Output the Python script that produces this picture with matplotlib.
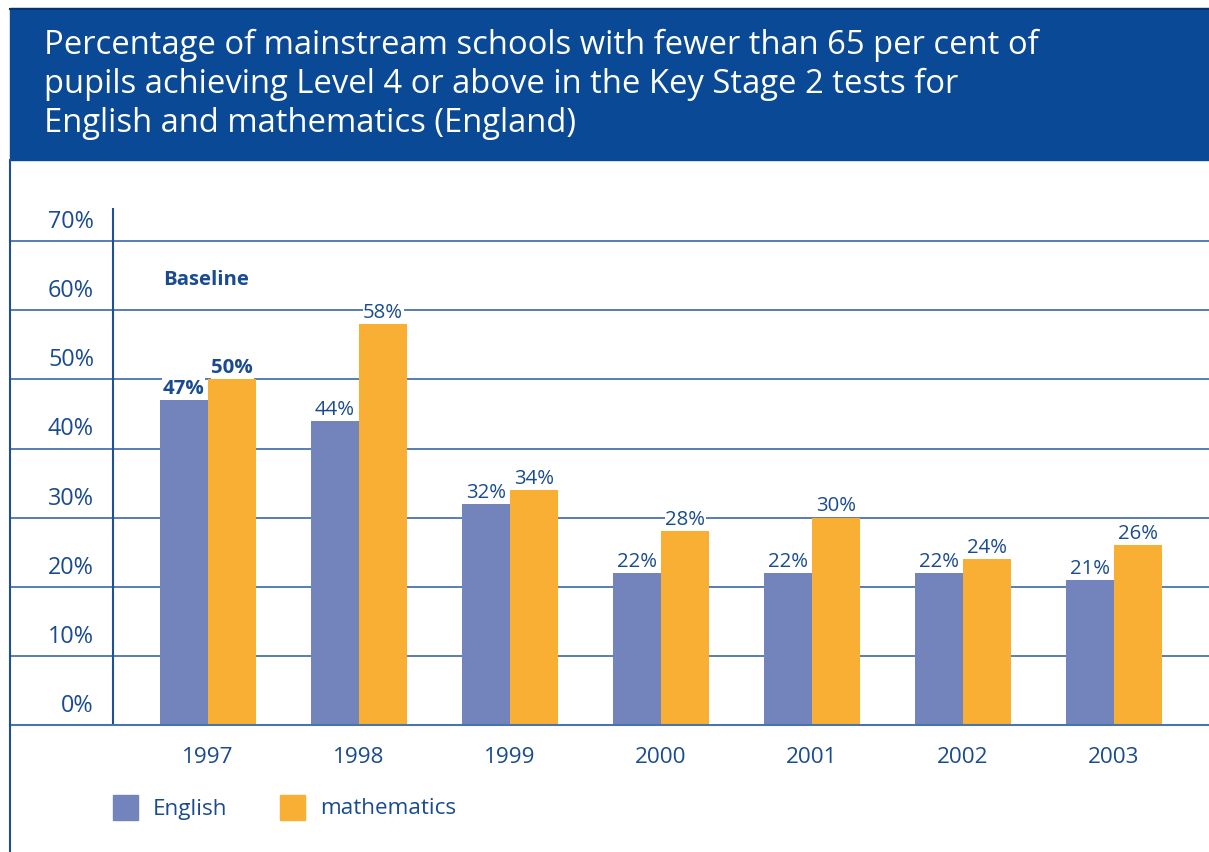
import matplotlib.pyplot as plt
from matplotlib.patches import Rectangle
from matplotlib.lines import Line2D

plt.rcParams['font.family'] = ['Open Sans', 'DejaVu Sans']

years = ['1997', '1998', '1999', '2000', '2001', '2002', '2003']
english = [47, 44, 32, 22, 22, 22, 21]
maths = [50, 58, 34, 28, 30, 24, 26]
yticks = [0, 10, 20, 30, 40, 50, 60, 70]
title_lines = ['Percentage of mainstream schools with fewer than 65 per cent of',
               'pupils achieving Level 4 or above in the Key Stage 2 tests for',
               'English and mathematics (England)']

BANNER = '#0a4996'
TEXT = '#1a4b90'
GRID = '#4a74ad'
ENG = '#7383bb'
MATH = '#f9af33'

W, H = 1209, 852
fig = plt.figure(figsize=(W / 100, H / 100), dpi=100)


def fx(x):
    return x / W


def fy(y):
    return 1 - y / H


# title banner
fig.patches.append(Rectangle((fx(10), fy(160)), fx(W) - fx(10), (160 - 8) / H,
                             transform=fig.transFigure, color=BANNER, zorder=0))
fig.lines.append(Line2D([fx(10), fx(W)], [fy(8.5), fy(8.5)], transform=fig.transFigure,
                        color='#06336e', lw=1.5))
for line, base in zip(title_lines, [54, 93, 132]):
    fig.text(fx(44), fy(base), line, color='white', fontsize=23.6, va='baseline', ha='left')

# left frame line
fig.lines.append(Line2D([fx(10), fx(10)], [fy(160), 0], transform=fig.transFigure,
                        color='#1f4f95', lw=1.5))

ax = fig.add_axes([fx(10), fy(725), fx(W) - fx(10), (725 - 208) / H])
ax.set_xlim(-1.311, 6.629)
ax.set_ylim(0, 74.8)
for s in ['top', 'right', 'left']:
    ax.spines[s].set_visible(False)
ax.spines['bottom'].set_color(GRID)
ax.spines['bottom'].set_linewidth(1.5)
ax.set_xticks([])
ax.set_yticks([])

for t in yticks[1:]:
    ax.axhline(t, color=GRID, lw=1.3, zorder=0)
ax.axvline(-0.629, color='#1f4f95', lw=1.5, zorder=1)

for t in yticks:
    ax.text(-0.755, t + 1.9, f'{t}%', ha='right', va='baseline', color=TEXT, fontsize=16.8)

x = list(range(len(years)))
w = 0.32
ax.bar([i - w / 2 for i in x], english, w, color=ENG, zorder=2)
ax.bar([i + w / 2 for i in x], maths, w, color=MATH, zorder=2)

for i in x:
    for off, v in [(-w / 2, english[i]), (w / 2, maths[i])]:
        ax.annotate(f'{v}%', (i + off, v), xytext=(0, 4.5), textcoords='offset points',
                    ha='center', va='baseline', color=TEXT, fontsize=14.7,
                    fontweight='bold' if i == 0 else 'normal',
                    bbox=dict(facecolor='white', edgecolor='none', pad=0.5), zorder=3)
    ax.text(i, -4.77, years[i], ha='center', va='center', color=TEXT, fontsize=16.2,
            clip_on=False)

ax.text(-0.298, 64.4, 'Baseline', ha='left', va='center', color=TEXT, fontsize=14.7,
        fontweight='bold')

# legend
for x0, col, label in [(113, ENG, 'English'), (280, MATH, 'mathematics')]:
    fig.patches.append(Rectangle((fx(x0), fy(820)), 25 / W, 25 / H,
                                 transform=fig.transFigure, color=col))
    fig.text(fx(x0 + 40), fy(809), label, color=TEXT, fontsize=16.2, va='center', ha='left')

fig.savefig('out.png', dpi=100)
